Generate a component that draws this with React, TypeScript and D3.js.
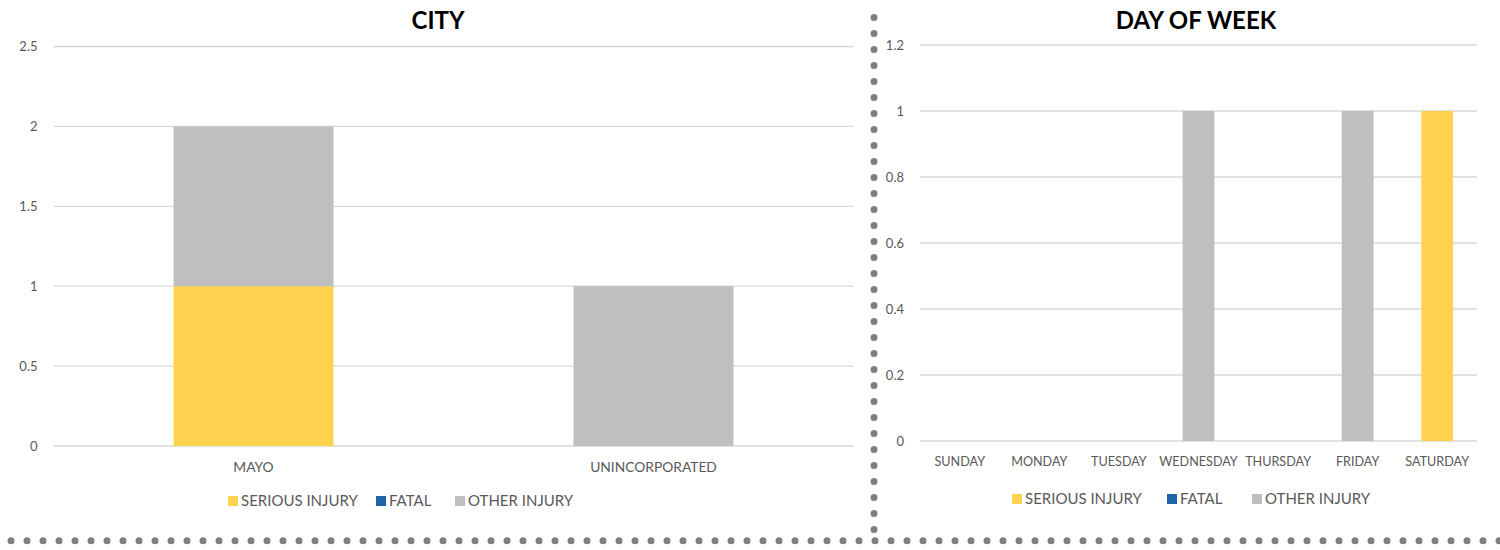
import * as d3 from "d3";

const SERIES = ["SERIOUS INJURY", "FATAL", "OTHER INJURY"];
const SERIES_COLORS = ["#FFD34F", "#1F63A8", "#BFBFBF"];

const CITIES = ["MAYO", "UNINCORPORATED"];
const CITY_SERIOUS = [1, 0];
const CITY_FATAL = [0, 0];
const CITY_OTHER = [1, 1];
const CITY_TICKS = [0, 0.5, 1, 1.5, 2, 2.5];

const DAYS = ["SUNDAY", "MONDAY", "TUESDAY", "WEDNESDAY", "THURSDAY", "FRIDAY", "SATURDAY"];
const DAY_SERIOUS = [0, 0, 0, 0, 0, 0, 1];
const DAY_FATAL = [0, 0, 0, 0, 0, 0, 0];
const DAY_OTHER = [0, 0, 0, 1, 0, 1, 0];
const DAY_TICKS = [0, 0.2, 0.4, 0.6, 0.8, 1, 1.2];

const FONT = "Lato, 'Open Sans', sans-serif";
const TEXT = "#595959";
const GRID = "#D9D9D9";
const DOT = "#7F7F7F";

type ChartProps = {
	title: string;
	titleX: number;
	cats: string[];
	values: number[][];
	ticks: number[];
	x0: number;
	x1: number;
	yTop: number;
	yBottom: number;
	barRatio: number;
	catY: number;
	catSize: number;
	legendX: number;
	legendY: number;
	legendGaps: number[];
};

function StackedChart(p: ChartProps) {
	const rows = p.cats.map((c, i) => {
		const r: Record<string, number | string> = { cat: c };
		SERIES.forEach((s, k) => (r[s] = p.values[k][i]));
		return r;
	});
	const stack = d3.stack<Record<string, number | string>>().keys(SERIES)(rows as any);

	const x = d3.scaleBand().domain(p.cats).range([p.x0, p.x1]);
	const y = d3
		.scaleLinear()
		.domain([0, p.ticks[p.ticks.length - 1]])
		.range([p.yBottom, p.yTop]);
	const bw = x.bandwidth() * p.barRatio;

	let lx = p.legendX;
	return (
		<g fontFamily={FONT}>
			<text x={p.titleX} y={29} textAnchor="middle" fontSize={24} fontWeight="bold" fill="#000">
				{p.title}
			</text>
			{p.ticks.map(t => (
				<g key={t}>
					<line x1={p.x0} x2={p.x1} y1={y(t)} y2={y(t)} stroke={GRID} strokeWidth={1.3} />
					<text x={p.x0 - 16} y={y(t)} dy="0.35em" textAnchor="end" fontSize={13} fill={TEXT}>
						{t}
					</text>
				</g>
			))}
			{stack.map((layer, k) =>
				layer.map((d, i) =>
					d[1] - d[0] > 0 ? (
						<rect
							key={`${k}-${i}`}
							x={x(p.cats[i])! + (x.bandwidth() - bw) / 2}
							y={y(d[1])}
							width={bw}
							height={y(d[0]) - y(d[1])}
							fill={SERIES_COLORS[k]}
						/>
					) : null
				)
			)}
			{p.cats.map(c => (
				<text key={c} x={x(c)! + x.bandwidth() / 2} y={p.catY} textAnchor="middle" fontSize={p.catSize} fill={TEXT}>
					{c}
				</text>
			))}
			{SERIES.map((s, k) => {
				const gx = lx;
				lx += p.legendGaps[k] ?? 0;
				return (
					<g key={s} transform={`translate(${gx},${p.legendY})`}>
						<rect x={0} y={-5} width={10} height={10} fill={SERIES_COLORS[k]} />
						<text x={13} y={0} dy="0.36em" fontSize={15} fill={TEXT}>
							{s}
						</text>
					</g>
				);
			})}
		</g>
	);
}

export default function App() {
	// dotted panel borders
	const hDots = d3.range(11, 1500, 16);
	const vDots = d3.range(17.5, 535, 16);
	return (
		<svg width={1500} height={550} style={{ display: "block", position: "absolute", left: 0, top: 0 }}>
			<rect width={1500} height={550} fill="#fff" />
			<StackedChart
				title="CITY"
				titleX={438}
				cats={CITIES}
				values={[CITY_SERIOUS, CITY_FATAL, CITY_OTHER]}
				ticks={CITY_TICKS}
				x0={53.5}
				x1={853.5}
				yTop={46.5}
				yBottom={446}
				barRatio={0.4}
				catY={472}
				catSize={13.8}
				legendX={228}
				legendY={501}
				legendGaps={[148, 79]}
			/>
			<StackedChart
				title="DAY OF WEEK"
				titleX={1196}
				cats={DAYS}
				values={[DAY_SERIOUS, DAY_FATAL, DAY_OTHER]}
				ticks={DAY_TICKS}
				x0={920}
				x1={1477}
				yTop={45}
				yBottom={441}
				barRatio={0.4}
				catY={466}
				catSize={12.6}
				legendX={1012}
				legendY={499}
				legendGaps={[155, 85]}
			/>
			{hDots.map(cx => (
				<circle key={`h${cx}`} cx={cx} cy={540.7} r={3.5} fill={DOT} />
			))}
			{vDots.map(cy => (
				<circle key={`v${cy}`} cx={874} cy={cy} r={3.5} fill={DOT} />
			))}
		</svg>
	);
}
